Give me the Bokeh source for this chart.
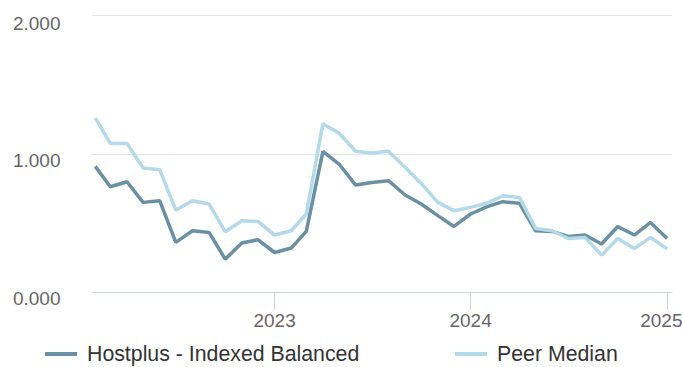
import pandas as pd
from bokeh.plotting import figure
from bokeh.layouts import column
from bokeh.models import Range1d, FixedTicker, Div
from bokeh.embed import file_html
from bokeh.resources import INLINE

# ---- data ----
dates = pd.date_range("2022-02-01", "2025-01-01", freq="MS")
hostplus = [0.911, 0.764, 0.800, 0.651, 0.663, 0.362, 0.446, 0.434, 0.241, 0.357,
            0.381, 0.289, 0.321, 0.441, 1.020, 0.928, 0.776, 0.795, 0.808, 0.704,
            0.639, 0.555, 0.477, 0.567, 0.620, 0.656, 0.644, 0.446, 0.441, 0.405,
            0.415, 0.350, 0.477, 0.415, 0.506, 0.390]
peer_median = [1.261, 1.077, 1.077, 0.899, 0.887, 0.596, 0.663, 0.639, 0.439, 0.518,
               0.513, 0.415, 0.446, 0.567, 1.218, 1.150, 1.020, 1.008, 1.020, 0.904,
               0.788, 0.651, 0.591, 0.615, 0.646, 0.699, 0.687, 0.463, 0.446, 0.390,
               0.398, 0.270, 0.390, 0.318, 0.398, 0.314]
series_names = ["Hostplus - Indexed Balanced", "Peer Median"]
x_tick_dates = ["2023-01-01", "2024-01-01", "2025-01-01"]
x_tick_labels = ["2023", "2024", "2025"]
y_ticks = [0, 1, 2]
y_tick_labels = ["0.000", "1.000", "2.000"]

FONT = "Liberation Sans"
DARK = "#6a90a5"
LIGHT = "#b4d9ea"
colors = [DARK, LIGHT]

p = figure(width=682, height=338, output_backend="svg", toolbar_location=None,
           x_axis_type="datetime",
           x_range=Range1d(pd.Timestamp("2022-01-25"), pd.Timestamp("2025-01-11")),
           y_range=Range1d(0, 2.008),
           min_border_left=91, min_border_right=10, min_border_top=14, min_border_bottom=46)
p.outline_line_color = None
p.background_fill_color = "white"
p.border_fill_color = "white"

p.line(dates, hostplus, line_color=DARK, line_width=3.5)
p.line(dates, peer_median, line_color=LIGHT, line_width=3.5)

# y axis (labels sit slightly below their grid lines, as in the reference)
p.yaxis.ticker = FixedTicker(ticks=y_ticks)
p.yaxis.major_label_overrides = {t: "\n" + l for t, l in zip(y_ticks, y_tick_labels)}
p.yaxis.axis_line_color = None
p.yaxis.major_tick_line_color = None
p.yaxis.minor_tick_line_color = None
p.yaxis.major_tick_out = 0
p.yaxis.major_tick_in = 0
p.yaxis.major_label_standoff = 31
p.yaxis.major_label_text_font = FONT
p.yaxis.major_label_text_font_size = "19px"
p.yaxis.major_label_text_color = "#666666"
p.yaxis.major_label_text_line_height = 0.6

# x axis
tick_ms = [pd.Timestamp(d).value // 10**6 for d in x_tick_dates]
p.xaxis.ticker = FixedTicker(ticks=tick_ms)
p.xaxis.major_label_overrides = {t: l for t, l in zip(tick_ms, x_tick_labels)}
p.xaxis.axis_line_color = "#ccd6eb"
p.xaxis.axis_line_width = 1
p.xaxis.major_tick_line_color = "#ccd6eb"
p.xaxis.major_tick_line_width = 1
p.xaxis.major_tick_out = 18
p.xaxis.major_tick_in = 0
p.xaxis.minor_tick_line_color = None
p.xaxis.major_label_standoff = 3
p.xaxis.major_label_text_font = FONT
p.xaxis.major_label_text_font_size = "19px"
p.xaxis.major_label_text_color = "#666666"

# grid
p.xgrid.grid_line_color = None
p.ygrid.grid_line_color = "#e6e6e6"
p.ygrid.grid_line_width = 1

# legend strip (HTML) below the chart
positions = [45, 455]
items = []
for name, col, left in zip(series_names, colors, positions):
    items.append(
        f'<span style="position:absolute;left:{left}px;top:14px;width:32px;height:4px;'
        f'background:{col};"></span>'
        f'<span style="position:absolute;left:{left + 42}px;top:4px;line-height:24px;'
        f'white-space:nowrap;">{name}</span>')
legend_html = (f'<div style="position:relative;width:682px;height:29px;'
               f'font-family:\'{FONT}\';font-size:21.3px;color:#333333;">'
               + "".join(items) + '</div>')
legend = Div(text=legend_html, width=682, height=29, margin=0)

layout = column(p, legend, spacing=0)
open("out.html", "w").write(file_html(layout, INLINE))
